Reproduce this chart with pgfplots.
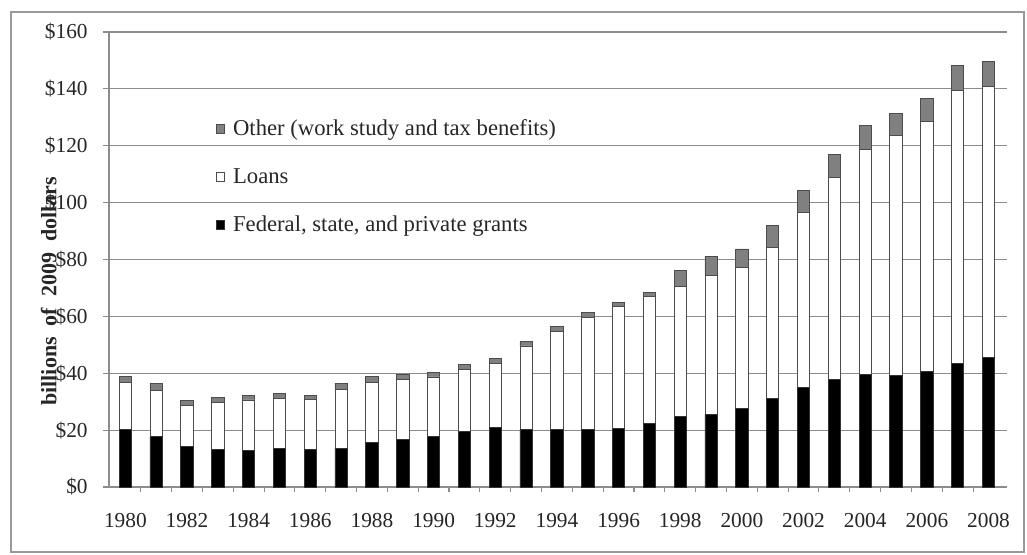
\documentclass[border=0pt]{standalone}
\usepackage{fontspec}
\setmainfont{Liberation Serif}
\usepackage{pgfplots}
\usepackage{pgfplotstable}
\pgfplotsset{compat=1.18}

% student aid by type, billions of 2009 dollars
\pgfplotstableread{
idx year grants loans other
0  1980 20.1 16.6 2.1
1  1981 17.7 16.1 2.7
2  1982 14.3 14.5 1.7
3  1983 13.3 16.4 1.9
4  1984 13.0 17.6 1.7
5  1985 13.7 17.5 1.8
6  1986 13.3 17.6 1.4
7  1987 13.6 20.8 2.1
8  1988 15.7 21.2 1.9
9  1989 16.8 21.1 1.7
10 1990 17.7 21.0 1.5
11 1991 19.6 21.8 1.6
12 1992 20.9 22.5 1.8
13 1993 20.1 29.5 1.6
14 1994 20.1 34.7 1.8
15 1995 20.1 39.4 1.8
16 1996 20.7 42.9 1.4
17 1997 22.3 44.8 1.4
18 1998 24.7 45.9 5.5
19 1999 25.6 48.8 6.8
20 2000 27.6 49.5 6.6
21 2001 31.1 53.2 7.6
22 2002 35.0 61.7 7.6
23 2003 37.9 71.0 7.9
24 2004 39.5 79.3 8.2
25 2005 39.3 84.2 8.0
26 2006 40.5 88.0 8.0
27 2007 43.4 96.2 8.6
28 2008 45.5 95.3 8.8
}\aid

\begin{document}
\begin{tikzpicture}
\begin{axis}[
    name=ax,
    scale only axis,
    width=673.5pt, height=341.25pt,
    ybar stacked, bar width=0.4,
    xmin=-0.53, xmax=28.6,
    ymin=0, ymax=160,
    axis lines*=left,
    axis line style={black!45, line width=0.8pt},
    tick align=outside,
    xtick={0,2,...,28},
    xticklabels={1980,1982,1984,1986,1988,1990,1992,1994,1996,1998,2000,2002,2004,2006,2008},
    major x tick style={draw=none},
    minor xtick={0.5,1.5,...,27.5},
    minor tick length=4pt,
    minor x tick style={black!45, line width=0.8pt},
    ytick={0,20,...,160},
    yticklabels={\$0,\$20,\$40,\$60,\$80,\$100,\$120,\$140,\$160},
    major tick length=4.5pt,
    major y tick style={black!45, line width=0.8pt},
    ymajorgrids,
    grid style={black!45, line width=0.9pt},
    ticklabel style={font=\fontsize{16}{18}\selectfont, text=black!85},
    xticklabel style={yshift=-12pt},
    yticklabel style={xshift=-8pt},
    ylabel={\textbf{billions\ \ of\ \ 2009\ \ dollars}},
    ylabel style={at={(axis description cs:-0.067,0.43)}, anchor=center,
        font=\fontsize{16.5}{18}\selectfont, text=black!85},
    legend style={at={(0.114,0.818)}, anchor=north west, draw=none, fill=none,
        font=\fontsize{17}{19}\selectfont, text=black!85, row sep=20pt,
        nodes={inner sep=1.5pt}},
    legend cell align=left,
    reverse legend,
    legend image code/.code={\draw[#1] (0pt,-3.3pt) rectangle (6.6pt,3.3pt);
        \path (11pt,0pt);},
]
\addplot[fill=black, draw=black!80, line width=0.6pt] table[x=idx, y=grants] {\aid};
\addlegendentry{Federal, state, and private grants}
\addplot[fill=white, draw=black!70, line width=0.6pt] table[x=idx, y=loans] {\aid};
\addlegendentry{Loans}
\addplot[fill=black!50, draw=black!70, line width=0.6pt] table[x=idx, y=other] {\aid};
\addlegendentry{Other (work study and tax benefits)}
\end{axis}
\draw[black!40, line width=0.9pt] ([shift={(-73.5pt,-48.75pt)}]ax.south west)
    rectangle ([shift={(12.75pt,15pt)}]ax.north east);
\path ([shift={(-81.75pt,-50.25pt)}]ax.south west)
    rectangle ([shift={(15pt,24pt)}]ax.north east);
\end{tikzpicture}
\end{document}
